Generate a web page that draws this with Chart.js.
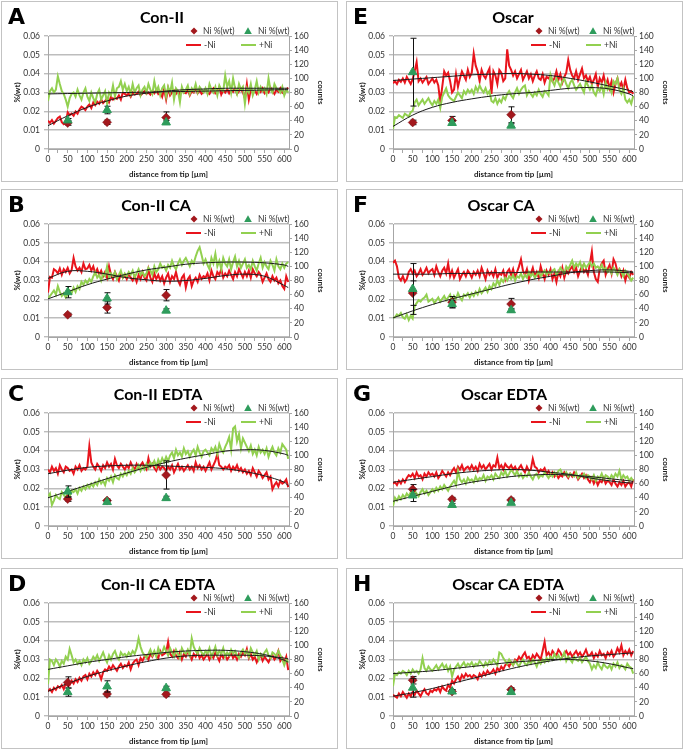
<!DOCTYPE html>
<html>
<head>
<meta charset="utf-8">
<script src="https://cdn.jsdelivr.net/npm/chart.js@4.4.1/dist/chart.umd.min.js"></script>
<style>
  html, body { margin: 0; padding: 0; background: #fff; }
  body { position: relative; width: 685px; height: 750px; overflow: hidden; }
  .panel { position: absolute; width: 337px; height: 181px; box-sizing: border-box; border: 1px solid #c3c3c3; background: #fff; }
  .panel canvas { display: block; }
</style>
</head>
<body>
<script>
const FONT = 'Lato, "Liberation Sans", sans-serif';

// distance along the root (µm), one reading every 5 µm
const distance = [];
for (let d = 0; d <= 610; d += 5) distance.push(d);
const trendX = [0, 50, 100, 150, 200, 250, 300, 350, 400, 450, 500, 550, 600, 610];
const sampleX = [50, 150, 300];
const xTicks = [0, 25, 50, 75, 100, 125, 150, 175, 200, 225, 250, 275, 300, 325, 350, 375, 400, 425, 450, 475, 500, 525, 550, 575, 600];
const pctTicks = [0, 0.01, 0.02, 0.03, 0.04, 0.05, 0.06];
const countTicks = [0, 20, 40, 60, 80, 100, 120, 140, 160];

// A  Con-II
const conII_minus = [
  40,37,41,36,40,44,46,38,35,37, 52,48,50,47,53,50,56,60,58,55,
  60,63,58,66,62,67,64,70,65,68, 72,66,74,70,73,71,76,70,80,78,
  76,79,74,80,77,78,81,76,79,82, 78,80,77,82,79,84,78,81,74,85,
  70,86,76,80,83,78,82,77,85,80, 79,84,76,82,80,87,79,83,78,81,
  84,80,78,83,86,79,82,88,77,83, 80,85,79,84,81,86,78,82,85,80,
  72,92,70,84,80,83,78,85,81,86, 79,83,80,87,82,78,84,81,86,80,
  78,84,87];
const conII_plus = [
  68,82,86,80,84,103,92,82,78,70, 60,72,78,80,74,84,76,70,80,86,
  74,68,80,72,66,78,84,70,76,82, 64,80,76,90,74,86,88,96,84,92,
  82,88,78,92,80,86,90,76,84,88, 80,92,84,78,96,82,88,76,86,90,
  74,88,80,94,70,86,82,66,88,80, 84,90,78,86,82,92,80,88,84,80,
  86,78,92,84,80,88,76,90,84,82, 104,88,96,80,100,86,78,92,84,88,
  64,86,80,92,76,84,96,80,88,82, 86,78,100,84,80,92,86,84,80,88,
  76,84,80];
const conII_minusFit = [33,47,59,68,75,79,82,84,85,86,86,86,86,86];
const conII_plusFit = [78,78.5,79,79.5,80,80.5,81,81.5,82,82.5,83,83.5,84,84];
const conII_niMinus = [0.0138, 0.0142, 0.0167];
const conII_niMinusErr = [0.0012, 0.0012, 0.003];
const conII_niPlus = [0.0152, 0.0207, 0.0141];
const conII_niPlusErr = [0.001, 0.002, 0.001];

// B  Con-II CA
const conIICA_minus = [
  63,85,84,96,94,90,97,88,96,92, 98,90,95,112,100,94,98,92,104,96,
  97,102,94,100,90,96,88,94,86,92, 84,100,88,82,92,86,80,90,84,88,
  82,90,84,80,86,78,88,82,92,84, 80,96,84,78,90,82,88,80,86,76,
  84,90,78,86,82,92,80,74,84,88, 70,82,86,72,80,84,78,88,82,86,
  84,90,80,94,86,82,92,88,96,84, 90,86,94,88,82,92,86,96,90,84,
  92,86,94,84,96,90,86,92,88,78, 84,90,82,78,86,80,84,76,80,72,
  68,86,78];
const conIICA_plus = [
  55,58,62,66,60,72,64,58,62,56, 60,66,62,70,64,72,68,78,74,80,
  76,82,78,86,92,84,88,80,90,86, 100,84,90,86,92,82,88,94,84,90,
  86,92,88,94,84,90,96,88,92,86, 90,98,94,88,100,92,96,104,98,100,
  94,102,98,108,100,96,104,110,102,108, 112,106,100,108,104,114,122,127,116,104,
  110,102,96,112,104,118,100,108,96,112, 104,100,110,96,106,114,100,108,98,104,
  110,98,102,96,108,100,94,104,112,98, 106,100,96,108,102,94,110,100,96,104,
  98,104,106];
const conIICA_minusFit = [83,93,93,89,84,81,79,80,83,87,89,86,73,70];
const conIICA_plusFit = [54,64,74,82,89,95,99,103,105,106,106,105,102,100];
const conIICA_niMinus = [0.0118, 0.0157, 0.0222];
const conIICA_niMinusErr = [0.0008, 0.003, 0.003];
const conIICA_niPlus = [0.0238, 0.0205, 0.0140];
const conIICA_niPlusErr = [0.003, 0.003, 0.001];

// C  Con-II EDTA
const conIIEDTA_minus = [
  80,76,84,78,82,74,86,80,76,84, 82,78,80,74,84,80,86,78,82,80,
  84,113,90,84,80,88,84,78,86,82, 90,84,88,80,95,86,82,88,84,80,
  86,82,90,84,80,88,82,86,90,84, 80,96,84,88,82,78,86,80,84,82,
  78,84,80,86,76,82,88,80,84,78, 82,86,80,84,78,90,82,86,80,84,
  78,84,90,80,86,92,102,86,84,80, 84,82,86,78,84,80,86,78,82,76,
  80,74,78,72,82,76,70,78,74,68, 72,76,66,70,52,58,62,56,64,60,
  62,66,55];
const conIIEDTA_plus = [
  42,46,30,36,44,40,38,48,44,40, 46,42,50,48,52,46,54,50,56,52,
  58,54,60,56,62,58,66,60,64,58, 68,64,70,62,72,68,66,74,70,76,
  72,78,74,82,76,80,86,78,84,80, 88,82,90,86,92,84,94,88,96,90,
  98,92,100,104,96,108,100,104,98,110, 102,106,98,104,108,100,112,104,98,106,
  108,104,100,110,106,112,102,116,108,104, 112,118,126,108,138,141,120,130,110,124,
  118,112,106,114,102,108,100,112,104,108, 102,110,98,106,112,104,100,110,104,116,
  112,108,95];
const conIIEDTA_minusFit = [74,79,83,85,86,86,85,84,83,81,77,71,62,57];
const conIIEDTA_plusFit = [40,49,58,67,75,83,90,96,101,106,108,107,102,100];
const conIIEDTA_niMinus = [0.0143, 0.0135, 0.0271];
const conIIEDTA_niMinusErr = [0.0012, 0.0008, 0.0075];
const conIIEDTA_niPlus = [0.0183, 0.0127, 0.0148];
const conIIEDTA_niPlusErr = [0.003, 0.0008, 0.001];

// D  Con-II CA EDTA
const conIICAEDTA_minus = [
  35,38,34,40,37,42,40,44,38,46, 48,44,50,46,52,48,54,50,56,58,
  52,60,56,62,58,64,60,52,62,66, 64,70,66,72,68,64,70,74,68,72,
  70,76,66,74,78,80,72,82,78,84, 86,80,88,84,90,86,82,92,86,88,
  90,105,88,84,92,86,82,90,80,88, 84,92,86,80,88,84,90,82,86,80,
  84,88,80,86,82,90,84,78,88,82, 86,80,84,90,82,86,80,88,84,90,
  86,95,82,88,80,84,76,82,86,78, 84,80,76,82,86,80,84,92,78,82,
  76,84,65];
const conIICAEDTA_plus = [
  45,80,78,72,80,76,70,78,74,84, 80,95,86,76,80,74,78,72,80,76,
  82,74,78,84,80,86,78,84,90,82, 76,86,80,88,92,84,80,90,86,88,
  84,90,86,92,88,96,110,98,90,86, 82,88,94,86,92,84,96,88,90,98,
  92,86,96,90,84,94,88,82,96,90, 88,94,86,110,98,92,88,96,90,86,
  92,88,96,84,90,98,86,92,88,96, 84,90,86,94,88,92,86,82,90,94,
  88,92,84,96,90,86,92,80,88,84, 90,94,86,82,90,88,84,92,86,80,
  72,80,76];
const conIICAEDTA_minusFit = [35,46,56,64,71,77,82,85,86,86,86,85,82,81];
const conIICAEDTA_plusFit = [66,71,76,80,84,87,90,92,93,93,91,87,79,76];
const conIICAEDTA_niMinus = [0.0178, 0.0117, 0.0115];
const conIICAEDTA_niMinusErr = [0.003, 0.0012, 0.0012];
const conIICAEDTA_niPlus = [0.0127, 0.0157, 0.0148];
const conIICAEDTA_niPlusErr = [0.0022, 0.003, 0.001];

// E  Oscar
const oscar_minus = [
  93,96,92,98,95,100,94,102,97,92, 99,110,123,96,100,94,98,102,92,96,
  100,94,98,90,66,88,110,104,108,96, 80,84,106,88,100,110,104,98,112,102,
  108,135,118,110,96,112,104,100,108,114, 78,110,104,92,112,108,96,100,141,118,
  112,104,110,100,106,112,98,104,110,100, 106,96,104,110,100,98,106,94,102,100,
  104,96,100,110,98,106,94,102,108,126, 112,104,100,110,98,106,114,100,104,96,
  102,92,98,106,88,100,94,104,90,98, 86,96,80,92,100,88,94,84,98,86,
  80,82,78];
const oscar_plus = [
  28,45,44,48,46,44,50,48,46,52, 54,66,70,62,66,70,64,68,72,66,
  62,68,64,70,58,74,80,86,76,72, 70,68,74,80,76,72,82,78,84,80,
  84,78,88,82,90,84,80,86,78,82, 68,66,72,64,70,66,74,70,78,82,
  76,72,80,86,78,84,88,90,76,82, 78,74,80,76,84,78,74,82,80,76,
  105,96,90,100,94,88,96,100,92,86, 94,98,90,84,88,92,86,80,96,90,
  84,90,80,76,86,82,90,78,94,84, 88,80,96,92,100,84,78,86,70,66,
  70,64,75];
const oscar_minusFit = [97,99,101,103,105,106,107,106,104,100,95,89,83,81];
const oscar_plusFit = [32,48,59,66,71,75,78,80,83,86,87,85,78,75];
const oscar_niMinus = [0.0141, 0.0151, 0.0182];
const oscar_niMinusErr = [0.0012, 0.0022, 0.0042];
const oscar_niPlus = [0.0408, 0.0138, 0.0124];
const oscar_niPlusErr = [0.018, 0.0012, 0.001];

// F  Oscar CA
const oscarCA_minus = [
  105,108,100,84,80,86,78,82,92,96, 90,94,86,90,96,88,92,98,90,94,
  96,88,100,92,86,94,98,90,104,86, 94,84,90,96,82,88,92,86,94,90,
  84,92,88,94,86,98,90,82,94,88, 92,86,96,84,90,88,94,82,92,96,
  88,96,84,92,100,110,94,88,96,80, 90,98,86,92,84,100,90,82,94,88,
  96,82,90,78,92,86,98,84,94,90, 96,100,92,98,86,94,100,92,96,88,
  104,121,92,82,78,96,104,108,88,96, 102,90,110,104,92,96,86,94,80,90,
  84,92,88];
const oscarCA_plus = [
  27,28,32,30,34,28,26,32,24,30, 26,44,48,52,50,54,56,60,50,52,
  54,48,52,56,50,54,58,52,56,60, 50,58,54,62,56,52,60,58,62,56,
  62,58,64,60,68,62,66,70,64,72, 68,76,72,80,74,82,78,84,80,86,
  82,88,80,86,84,90,82,88,84,92, 86,90,84,88,92,86,90,94,88,92,
  90,94,96,88,92,98,94,90,100,96, 102,108,98,104,100,106,96,104,98,102,
  106,100,104,98,100,96,102,94,98,92, 96,90,98,94,88,96,92,86,94,90,
  86,80,84];
const oscarCA_minusFit = [89,89,89,90,90,91,91,92,92,92,92,92,91,91];
const oscarCA_plusFit = [27,37,46,54,61,68,75,81,86,91,94,95,93,92];
const oscarCA_niMinus = [0.0233, 0.0185, 0.0175];
const oscarCA_niMinusErr = [0.0065, 0.003, 0.003];
const oscarCA_niPlus = [0.0255, 0.0175, 0.0142];
const oscarCA_niPlusErr = [0.0135, 0.002, 0.001];

// G  Oscar EDTA
const oscarEDTA_minus = [
  60,62,58,64,60,66,62,68,72,70, 74,68,76,70,72,66,74,70,76,72,
  74,70,76,68,72,78,74,70,76,72, 78,82,76,84,80,86,78,82,84,80,
  86,80,84,78,88,82,86,80,84,88, 80,86,84,97,82,86,80,88,84,82,
  86,80,84,78,82,86,80,76,84,78, 80,95,84,82,76,80,78,82,74,78,
  72,76,70,74,68,72,70,76,72,68, 74,70,76,72,66,70,74,68,72,66,
  62,68,60,66,58,64,62,68,60,64, 62,58,66,60,56,62,58,64,56,60,
  62,56,66];
const oscarEDTA_plus = [
  28,40,36,42,38,44,40,46,42,48, 44,50,46,42,48,52,46,50,44,48,
  52,48,54,50,56,52,58,54,50,56, 60,64,58,78,66,62,66,60,68,64,
  66,62,70,64,68,66,72,64,70,68, 72,66,74,70,68,76,72,78,70,74,
  80,76,72,78,70,74,68,72,70,76, 70,66,72,74,68,72,70,76,72,68,
  74,70,76,72,78,80,74,72,76,70, 74,72,70,76,68,72,70,74,68,72,
  70,66,72,64,70,68,74,66,72,70, 66,72,68,74,70,78,66,72,68,70,
  64,68,64];
const oscarEDTA_minusFit = [62,66,70,74,77,79,80,79,76,73,68,64,61,61];
const oscarEDTA_plusFit = [35,42,49,56,62,66,70,72,73,72,70,67,64,63];
const oscarEDTA_niMinus = [0.0195, 0.0142, 0.0138];
const oscarEDTA_niMinusErr = [0.0025, 0.001, 0.001];
const oscarEDTA_niPlus = [0.0162, 0.0112, 0.0123];
const oscarEDTA_niPlusErr = [0.0032, 0.0008, 0.0008];

// H  Oscar CA EDTA
const oscarCAEDTA_minus = [
  30,28,26,32,28,34,30,26,32,28, 34,30,36,32,28,34,38,32,30,36,
  34,38,36,40,34,42,38,36,44,40, 50,46,52,56,50,58,54,60,56,58,
  54,58,56,52,60,56,62,58,64,60, 62,66,60,68,64,70,66,72,74,70,
  76,72,80,78,84,80,86,90,82,84, 78,86,82,88,84,80,92,105,86,90,
  84,92,88,86,94,90,84,88,92,86, 90,84,88,92,86,90,84,88,94,86,
  86,90,82,88,84,92,86,88,82,90, 86,92,84,88,96,90,100,86,92,88,
  94,86,92];
const oscarCAEDTA_plus = [
  42,60,58,62,60,64,62,58,64,60, 66,62,64,60,66,82,68,64,70,66,
  64,68,72,66,70,74,68,72,64,70, 56,66,70,74,68,72,76,70,74,72,
  76,70,74,72,78,74,70,76,72,78, 74,80,76,72,90,88,82,78,74,80,
  76,72,78,74,70,76,80,74,72,78, 74,80,76,70,78,74,80,76,82,78,
  84,80,88,82,86,80,84,90,78,84, 80,76,84,80,78,82,76,80,84,78,
  74,66,72,68,76,70,66,74,70,68, 72,66,74,70,76,68,72,70,66,74,
  70,68,60];
const oscarCAEDTA_minusFit = [28,33,39,46,53,60,67,73,78,82,85,87,89,89];
const oscarCAEDTA_plusFit = [60,62,64,67,70,73,76,78,80,80,78,74,68,67];
const oscarCAEDTA_niMinus = [0.0190, 0.0130, 0.0140];
const oscarCAEDTA_niMinusErr = [0.002, 0.001, 0.001];
const oscarCAEDTA_niPlus = [0.0150, 0.0130, 0.0127];
const oscarCAEDTA_niPlusErr = [0.005, 0.001, 0.001];

const RED_LINE = '#e8141c';
const GREEN_LINE = '#92d050';
const DIAMOND = '#a3181d';
const TRIANGLE = '#2e9c5c';

const colLeft = [1, 346];
const rowTop = [1, 189, 378, 568];

const panels = [
  { letter: 'A', title: 'Con-II', titleX: 160, col: 0, row: 0,
    minus: conII_minus, plus: conII_plus, minusFit: conII_minusFit, plusFit: conII_plusFit,
    niMinus: conII_niMinus, niMinusErr: conII_niMinusErr, niPlus: conII_niPlus, niPlusErr: conII_niPlusErr },
  { letter: 'B', title: 'Con-II CA', titleX: 154, col: 0, row: 1,
    minus: conIICA_minus, plus: conIICA_plus, minusFit: conIICA_minusFit, plusFit: conIICA_plusFit,
    niMinus: conIICA_niMinus, niMinusErr: conIICA_niMinusErr, niPlus: conIICA_niPlus, niPlusErr: conIICA_niPlusErr },
  { letter: 'C', title: 'Con-II EDTA', titleX: 156, col: 0, row: 2,
    minus: conIIEDTA_minus, plus: conIIEDTA_plus, minusFit: conIIEDTA_minusFit, plusFit: conIIEDTA_plusFit,
    niMinus: conIIEDTA_niMinus, niMinusErr: conIIEDTA_niMinusErr, niPlus: conIIEDTA_niPlus, niPlusErr: conIIEDTA_niPlusErr },
  { letter: 'D', title: 'Con-II CA EDTA', titleX: 156, col: 0, row: 3,
    minus: conIICAEDTA_minus, plus: conIICAEDTA_plus, minusFit: conIICAEDTA_minusFit, plusFit: conIICAEDTA_plusFit,
    niMinus: conIICAEDTA_niMinus, niMinusErr: conIICAEDTA_niMinusErr, niPlus: conIICAEDTA_niPlus, niPlusErr: conIICAEDTA_niPlusErr },
  { letter: 'E', title: 'Oscar', titleX: 166, col: 1, row: 0,
    minus: oscar_minus, plus: oscar_plus, minusFit: oscar_minusFit, plusFit: oscar_plusFit,
    niMinus: oscar_niMinus, niMinusErr: oscar_niMinusErr, niPlus: oscar_niPlus, niPlusErr: oscar_niPlusErr },
  { letter: 'F', title: 'Oscar CA', titleX: 154, col: 1, row: 1,
    minus: oscarCA_minus, plus: oscarCA_plus, minusFit: oscarCA_minusFit, plusFit: oscarCA_plusFit,
    niMinus: oscarCA_niMinus, niMinusErr: oscarCA_niMinusErr, niPlus: oscarCA_niPlus, niPlusErr: oscarCA_niPlusErr },
  { letter: 'G', title: 'Oscar EDTA', titleX: 157, col: 1, row: 2,
    minus: oscarEDTA_minus, plus: oscarEDTA_plus, minusFit: oscarEDTA_minusFit, plusFit: oscarEDTA_plusFit,
    niMinus: oscarEDTA_niMinus, niMinusErr: oscarEDTA_niMinusErr, niPlus: oscarEDTA_niPlus, niPlusErr: oscarEDTA_niPlusErr },
  { letter: 'H', title: 'Oscar CA EDTA', titleX: 161, col: 1, row: 3,
    minus: oscarCAEDTA_minus, plus: oscarCAEDTA_plus, minusFit: oscarCAEDTA_minusFit, plusFit: oscarCAEDTA_plusFit,
    niMinus: oscarCAEDTA_niMinus, niMinusErr: oscarCAEDTA_niMinusErr, niPlus: oscarCAEDTA_niPlus, niPlusErr: oscarCAEDTA_niPlusErr }
];

function diamond(ctx, x, y, r, color) {
  ctx.beginPath();
  ctx.moveTo(x, y - r); ctx.lineTo(x + r, y); ctx.lineTo(x, y + r); ctx.lineTo(x - r, y);
  ctx.closePath();
  ctx.fillStyle = color;
  ctx.fill();
}

function triangle(ctx, x, y, r, color) {
  ctx.beginPath();
  ctx.moveTo(x, y - r); ctx.lineTo(x + r, y + r * 0.8); ctx.lineTo(x - r, y + r * 0.8);
  ctx.closePath();
  ctx.fillStyle = color;
  ctx.fill();
}

// error bars go under their markers
const errorBars = {
  id: 'errorBars',
  beforeDatasetDraw(chart, args) {
    const ds = chart.data.datasets[args.index];
    if (!ds.errors) return;
    const { ctx, scales: { x, y } } = chart;
    ctx.save();
    ctx.strokeStyle = '#111';
    ctx.lineWidth = 1;
    ds.data.forEach((p, i) => {
      const px = Math.round(x.getPixelForValue(p.x)) + 0.5;
      const top = y.getPixelForValue(p.y + ds.errors[i]);
      const bot = y.getPixelForValue(p.y - ds.errors[i]);
      ctx.beginPath();
      ctx.moveTo(px, top); ctx.lineTo(px, bot);
      ctx.moveTo(px - 3, top); ctx.lineTo(px + 3, top);
      ctx.moveTo(px - 3, bot); ctx.lineTo(px + 3, bot);
      ctx.stroke();
    });
    ctx.restore();
  }
};

// panel letter, title and the two-row legend
const panelDecor = {
  id: 'panelDecor',
  afterDraw(chart, args, opts) {
    const ctx = chart.ctx;
    ctx.save();
    ctx.textBaseline = 'middle';
    ctx.fillStyle = '#000';
    ctx.textAlign = 'left';
    ctx.font = 'bold 22px "DejaVu Sans", sans-serif';
    ctx.fillText(opts.letter, 6, 16);
    ctx.textAlign = 'center';
    ctx.font = 'bold 16px ' + FONT;
    ctx.fillText(opts.title, opts.titleX, 16);

    ctx.textAlign = 'left';
    ctx.font = '8.5px ' + FONT;
    diamond(ctx, 192, 29, 3.5, DIAMOND);
    triangle(ctx, 246, 29, 3.8, TRIANGLE);
    ctx.fillStyle = '#333';
    ctx.fillText('Ni %(wt)', 201, 29.5);
    ctx.fillText('Ni %(wt)', 256, 29.5);

    ctx.lineWidth = 2;
    ctx.strokeStyle = RED_LINE;
    ctx.beginPath(); ctx.moveTo(184, 43); ctx.lineTo(199, 43); ctx.stroke();
    ctx.strokeStyle = GREEN_LINE;
    ctx.beginPath(); ctx.moveTo(239, 43); ctx.lineTo(254, 43); ctx.stroke();
    ctx.fillText('-Ni', 202, 43.5);
    ctx.fillText('+Ni', 257, 43.5);
    ctx.restore();
  }
};

Chart.defaults.font.family = FONT;
Chart.defaults.color = '#333';

function makeChart(p) {
  const box = document.createElement('div');
  box.className = 'panel';
  box.style.left = colLeft[p.col] + 'px';
  box.style.top = rowTop[p.row] + 'px';
  const canvas = document.createElement('canvas');
  canvas.width = 335;
  canvas.height = 179;
  canvas.style.width = '335px';
  canvas.style.height = '179px';
  box.appendChild(canvas);
  document.body.appendChild(box);

  const pts = (xs, ys) => xs.map((x, i) => ({ x: x, y: ys[i] }));

  new Chart(canvas.getContext('2d'), {
    type: 'line',
    data: {
      datasets: [
        { label: 'Ni %(wt)', data: pts(sampleX, p.niPlus), errors: p.niPlusErr, yAxisID: 'y',
          showLine: false, pointStyle: 'triangle', pointRadius: 5, pointBackgroundColor: TRIANGLE,
          pointBorderColor: TRIANGLE, order: 0 },
        { label: 'Ni %(wt)', data: pts(sampleX, p.niMinus), errors: p.niMinusErr, yAxisID: 'y',
          showLine: false, pointStyle: 'rectRot', pointRadius: 4.5, pointBackgroundColor: DIAMOND,
          pointBorderColor: '#7d1014', pointBorderWidth: 0.5, order: 1 },
        { label: 'fit -Ni', data: pts(trendX, p.minusFit), yAxisID: 'y1', borderColor: '#1a1a1a',
          borderWidth: 1, pointRadius: 0, tension: 0.4, order: 2 },
        { label: 'fit +Ni', data: pts(trendX, p.plusFit), yAxisID: 'y1', borderColor: '#1a1a1a',
          borderWidth: 1, pointRadius: 0, tension: 0.4, order: 2 },
        { label: '+Ni', data: pts(distance, p.plus), yAxisID: 'y1', borderColor: GREEN_LINE,
          borderWidth: 2, pointRadius: 0, tension: 0, order: 3 },
        { label: '-Ni', data: pts(distance, p.minus), yAxisID: 'y1', borderColor: RED_LINE,
          borderWidth: 2, pointRadius: 0, tension: 0, order: 4 }
      ]
    },
    options: {
      responsive: false,
      animation: false,
      events: [],
      layout: { padding: { top: 34, left: 0, right: 0, bottom: 0 } },
      plugins: {
        legend: { display: false },
        tooltip: { enabled: false },
        panelDecor: { letter: p.letter, title: p.title, titleX: p.titleX }
      },
      scales: {
        x: {
          type: 'linear', min: 0, max: 612,
          afterBuildTicks: s => { s.ticks = xTicks.map(v => ({ value: v })); },
          afterFit: s => { s.height = 32; },
          ticks: { font: { size: 8.5 }, padding: 1, maxRotation: 0, autoSkip: false,
                   callback: v => (v % 50 === 0 ? String(v) : '') },
          grid: { drawOnChartArea: false, tickLength: 4, color: '#a6a6a6' },
          border: { color: '#a6a6a6' },
          title: { display: true, text: 'distance from tip [µm]', color: '#222',
                   font: { size: 8, weight: 'bold' }, padding: { top: 0, bottom: 2 } }
        },
        y: {
          position: 'left', min: 0, max: 0.06,
          afterBuildTicks: s => { s.ticks = pctTicks.map(v => ({ value: v })); },
          afterFit: s => { s.width = 46; },
          ticks: { font: { size: 8.5 }, padding: 4, callback: v => (v === 0 ? '0' : v.toFixed(2)) },
          grid: { color: '#bdbdbd', lineWidth: 1.4, tickLength: 4 },
          border: { color: '#a6a6a6' },
          title: { display: true, text: '%(wt)', color: '#222',
                   font: { size: 8, weight: 'bold' }, padding: { top: 11, bottom: 0 } }
        },
        y1: {
          position: 'right', min: 0, max: 160,
          afterBuildTicks: s => { s.ticks = countTicks.map(v => ({ value: v })); },
          afterFit: s => { s.width = 48; },
          ticks: { font: { size: 8.5 }, padding: 2 },
          grid: { drawOnChartArea: false, tickLength: 3, color: '#a6a6a6' },
          border: { color: '#a6a6a6' },
          title: { display: true, text: 'counts', color: '#222',
                   font: { size: 8, weight: 'bold' }, padding: { top: 12, bottom: 0 } }
        }
      }
    },
    plugins: [errorBars, panelDecor]
  });
}

panels.forEach(makeChart);
</script>
</body>
</html>
